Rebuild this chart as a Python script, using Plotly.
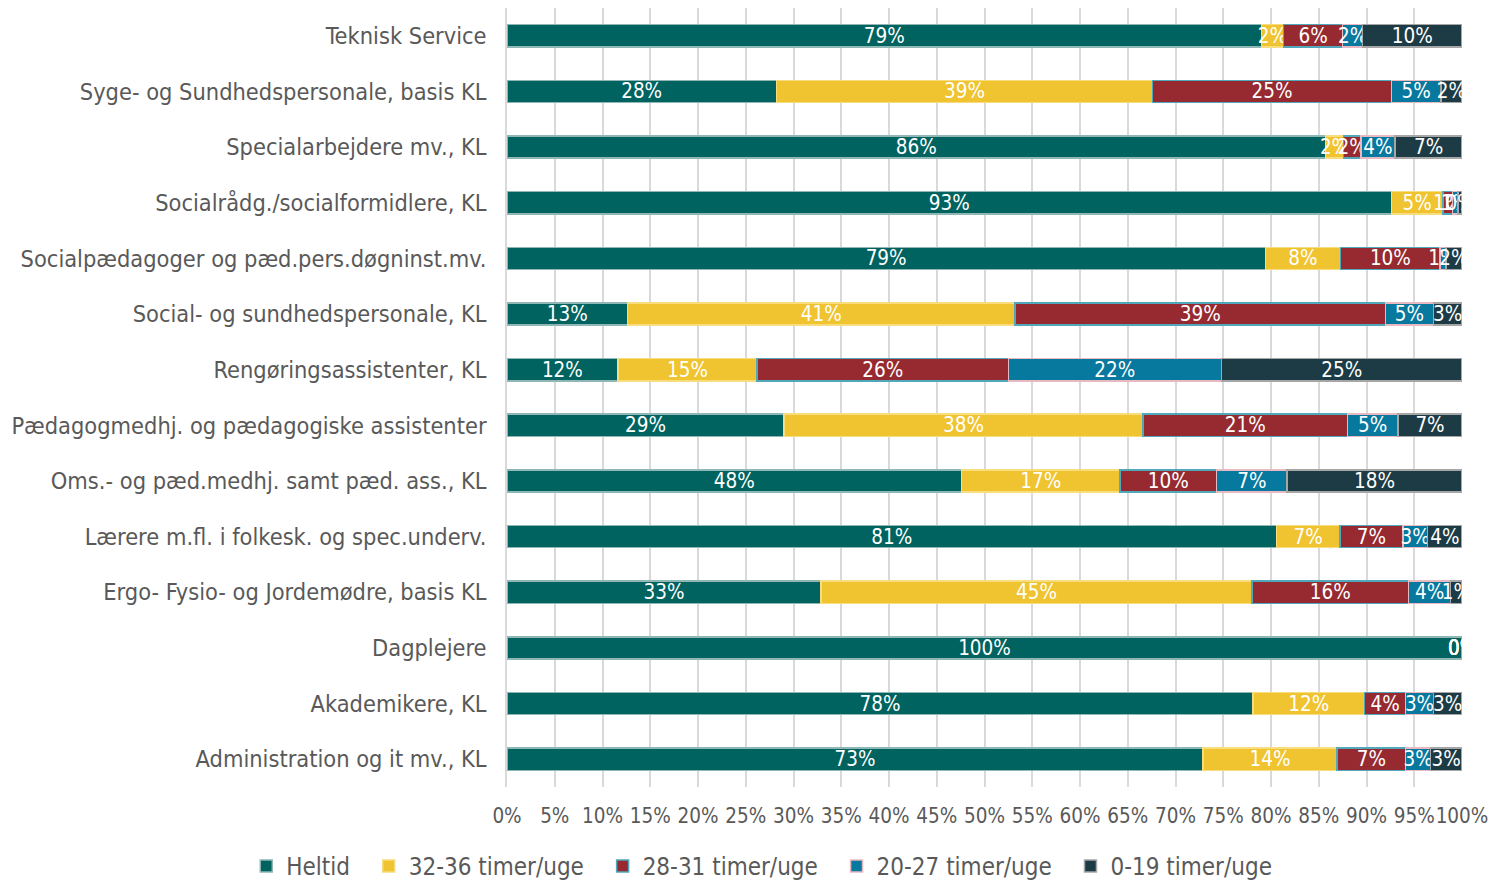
import plotly.graph_objects as go

categories = [
    "Teknisk Service",
    "Syge- og Sundhedspersonale, basis KL",
    "Specialarbejdere mv., KL",
    "Socialrådg./socialformidlere, KL",
    "Socialpædagoger og pæd.pers.døgninst.mv.",
    "Social- og sundhedspersonale, KL",
    "Rengøringsassistenter, KL",
    "Pædagogmedhj. og pædagogiske assistenter",
    "Oms.- og pæd.medhj. samt pæd. ass., KL",
    "Lærere m.fl. i folkesk. og spec.underv.",
    "Ergo- Fysio- og Jordemødre, basis KL",
    "Dagplejere",
    "Akademikere, KL",
    "Administration og it mv., KL",
]

heltid    = [79.0, 28.2, 85.7, 92.6, 79.4, 12.6, 11.6, 29.0, 47.6, 80.6, 32.9, 100.0, 78.1, 72.9]
t32_36    = [2.3, 39.4, 1.9, 5.4, 7.9, 40.6, 14.6, 37.6, 16.6, 6.6, 45.1, 0.0, 11.7, 14.0]
t28_31    = [6.2, 25.0, 1.8, 1.0, 10.4, 38.8, 26.3, 21.4, 10.1, 6.6, 16.4, 0.0, 4.3, 7.2]
t20_27    = [2.1, 5.2, 3.6, 0.6, 0.6, 5.0, 22.3, 5.3, 7.4, 2.6, 4.4, 0.0, 2.9, 2.6]
t0_19     = [10.4, 2.2, 7.0, 0.4, 1.7, 3.0, 25.2, 6.7, 18.3, 3.6, 1.2, 0.0, 3.0, 3.3]

series_names = ["Heltid", "32-36 timer/uge", "28-31 timer/uge", "20-27 timer/uge", "0-19 timer/uge"]
series_values = [heltid, t32_36, t28_31, t20_27, t0_19]
fill_colors = ["#006360", "#F0C330", "#962A30", "#07789E", "#1D3B45"]
line_colors = ["#8FB7B5", "#F7DD7E", "#52A8BB", "#E8B9C0", "#A6A6A6"]

tick_vals = [i / 100 for i in range(0, 101, 5)]
tick_text = [f"{i}%" for i in range(0, 101, 5)]

font_family = "DejaVu Sans Condensed, Noto Sans, sans-serif"
label_size = 20.5


def pct(v):
    return f"{int(v + 0.5)}%"


fig = go.Figure()
for name, vals, fc, lc in zip(series_names, series_values, fill_colors, line_colors):
    fig.add_trace(go.Bar(
        name=name + "\u00a0\u00a0",
        y=categories,
        x=[v / 100 for v in vals],
        orientation="h",
        marker=dict(color=fc, line=dict(color=lc, width=1.5)),
        text=[pct(v) for v in vals],
        textposition="inside",
        insidetextanchor="middle",
        textangle=0,
        constraintext="none",
        textfont=dict(color="white", size=label_size, family=font_family),
        cliponaxis=False,
        hoverinfo="x+y+name",
    ))

# labels for zero-width segments (Excel still prints them at the stack edge)
for ci, cat in enumerate(categories):
    cum = 0.0
    for vals in series_values:
        v = vals[ci]
        if v == 0:
            fig.add_annotation(
                x=cum / 100, y=cat, xref="x", yref="y",
                text=pct(v), showarrow=False,
                font=dict(color="white", size=label_size, family=font_family),
                xanchor="center", yanchor="middle",
            )
        cum += v

fig.update_layout(
    barmode="stack",
    bargap=0.6,
    width=1497,
    height=873,
    paper_bgcolor="white",
    plot_bgcolor="white",
    margin=dict(l=499, r=43, t=0, b=94, autoexpand=False),
    font=dict(family=font_family, size=20, color="#595959"),
    xaxis=dict(
        range=[0, 1],
        tickvals=tick_vals,
        ticktext=tick_text,
        tickangle=0,
        showgrid=True,
        gridcolor="#D9D9D9",
        gridwidth=1.5,
        zeroline=False,
        showline=False,
        ticks="",
        ticklabelstandoff=14,
        tickfont=dict(size=20.5, color="#595959"),
        fixedrange=True,
        automargin=False,
    ),
    yaxis=dict(
        categoryorder="array",
        categoryarray=categories,
        autorange="reversed",
        showline=True,
        linecolor="#D9D9D9",
        linewidth=1.5,
        ticks="",
        ticklabelstandoff=14,
        tickfont=dict(size=23.4, color="#595959"),
        fixedrange=True,
        automargin=False,
    ),
    legend=dict(
        orientation="h",
        x=-0.273,
        xanchor="left",
        y=-0.102,
        yanchor="middle",
        font=dict(size=24, color="#595959"),
        itemwidth=30,
        traceorder="normal",
    ),
)

fig.write_html("out.html")
